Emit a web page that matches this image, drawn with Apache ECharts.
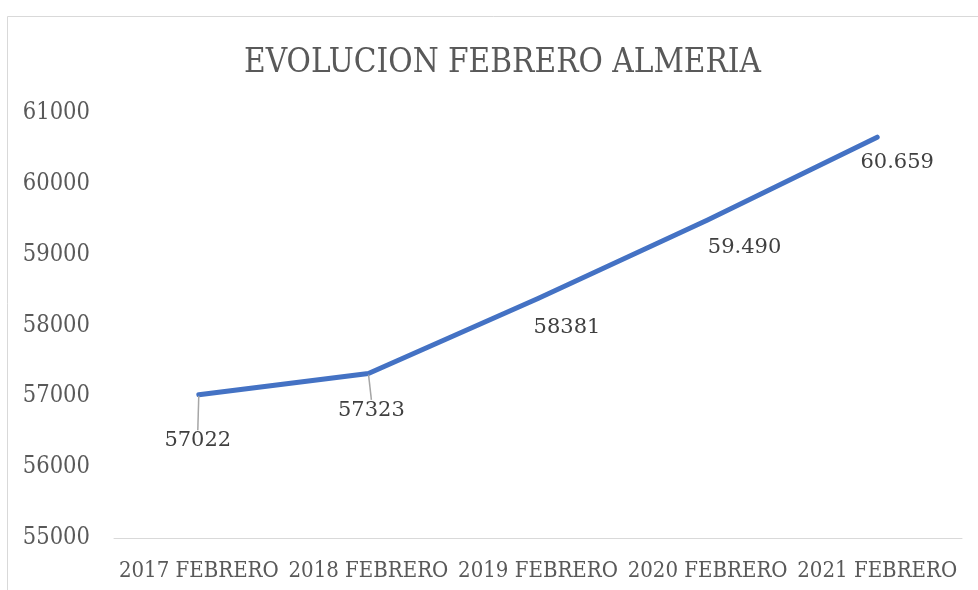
<!DOCTYPE html>
<html><head><meta charset="utf-8">
<script src="https://cdn.jsdelivr.net/npm/echarts@6/dist/echarts.min.js"></script>
<style>html,body{margin:0;padding:0;background:#fff}#c{width:978px;height:590px}</style>
</head><body><div id="c"></div>
<script>
const categories = ['2017 FEBRERO','2018 FEBRERO','2019 FEBRERO','2020 FEBRERO','2021 FEBRERO'];
const values = [57022, 57323, 58381, 59490, 60659];
const labelTexts = ['57022','57323','58381','59.490','60.659'];
const yTicks = [55000, 56000, 57000, 58000, 59000, 60000, 61000];

const labelShift = [[-1,46],[3,37],[29,29],[37,28],[20,25]];
const withLeader = [true, true, false, false, false];

const chart = echarts.init(document.getElementById('c'), null, {renderer:'canvas'});
chart.setOption({
  backgroundColor:'#fff',
  animation:false,
  title:{text:'EVOLUCION FEBRERO ALMERIA', left:239, top:42,
    textStyle:{fontFamily:'DejaVu Serif Condensed', fontSize:33, fontWeight:'normal', color:'#595959'}},
  graphic:[{type:'rect', shape:{x:7.5,y:16.5,width:1000,height:600}, style:{fill:null, stroke:'#d9d9d9', lineWidth:1}, silent:true}],
  grid:{left:114, right:16, top:113, bottom:52},
  xAxis:{type:'category', data:categories, boundaryGap:true,
    axisLine:{lineStyle:{color:'#d9d9d9', width:1}}, axisTick:{show:false},
    axisLabel:{fontFamily:'DejaVu Serif Condensed', fontSize:22, color:'#595959', margin:22, interval:0}},
  yAxis:{type:'value', min:yTicks[0], max:yTicks[yTicks.length-1], interval:1000,
    axisLine:{show:false}, axisTick:{show:false}, splitLine:{show:false},
    axisLabel:{fontFamily:'DejaVu Serif Condensed', fontSize:23.5, color:'#595959', margin:24, formatter:v=>String(v)}},
  series:[{type:'line', data:values.map((v,i)=>({value:v, labelLine:{show:withLeader[i], lineStyle:{color:'#a6a6a6', width:1.5}}})),
    symbol:'circle', symbolSize:2, showSymbol:true,
    itemStyle:{color:'#4472C4'},
    lineStyle:{color:'#4472C4', width:5, cap:'round', join:'round'},
    label:{show:true, position:'inside', formatter:p=>labelTexts[p.dataIndex],
      fontFamily:'DejaVu Serif', fontSize:21, color:'#404040'},
    labelLayout:p=>({dx:labelShift[p.dataIndex][0], dy:labelShift[p.dataIndex][1]})
  }]
});
</script></body></html>
